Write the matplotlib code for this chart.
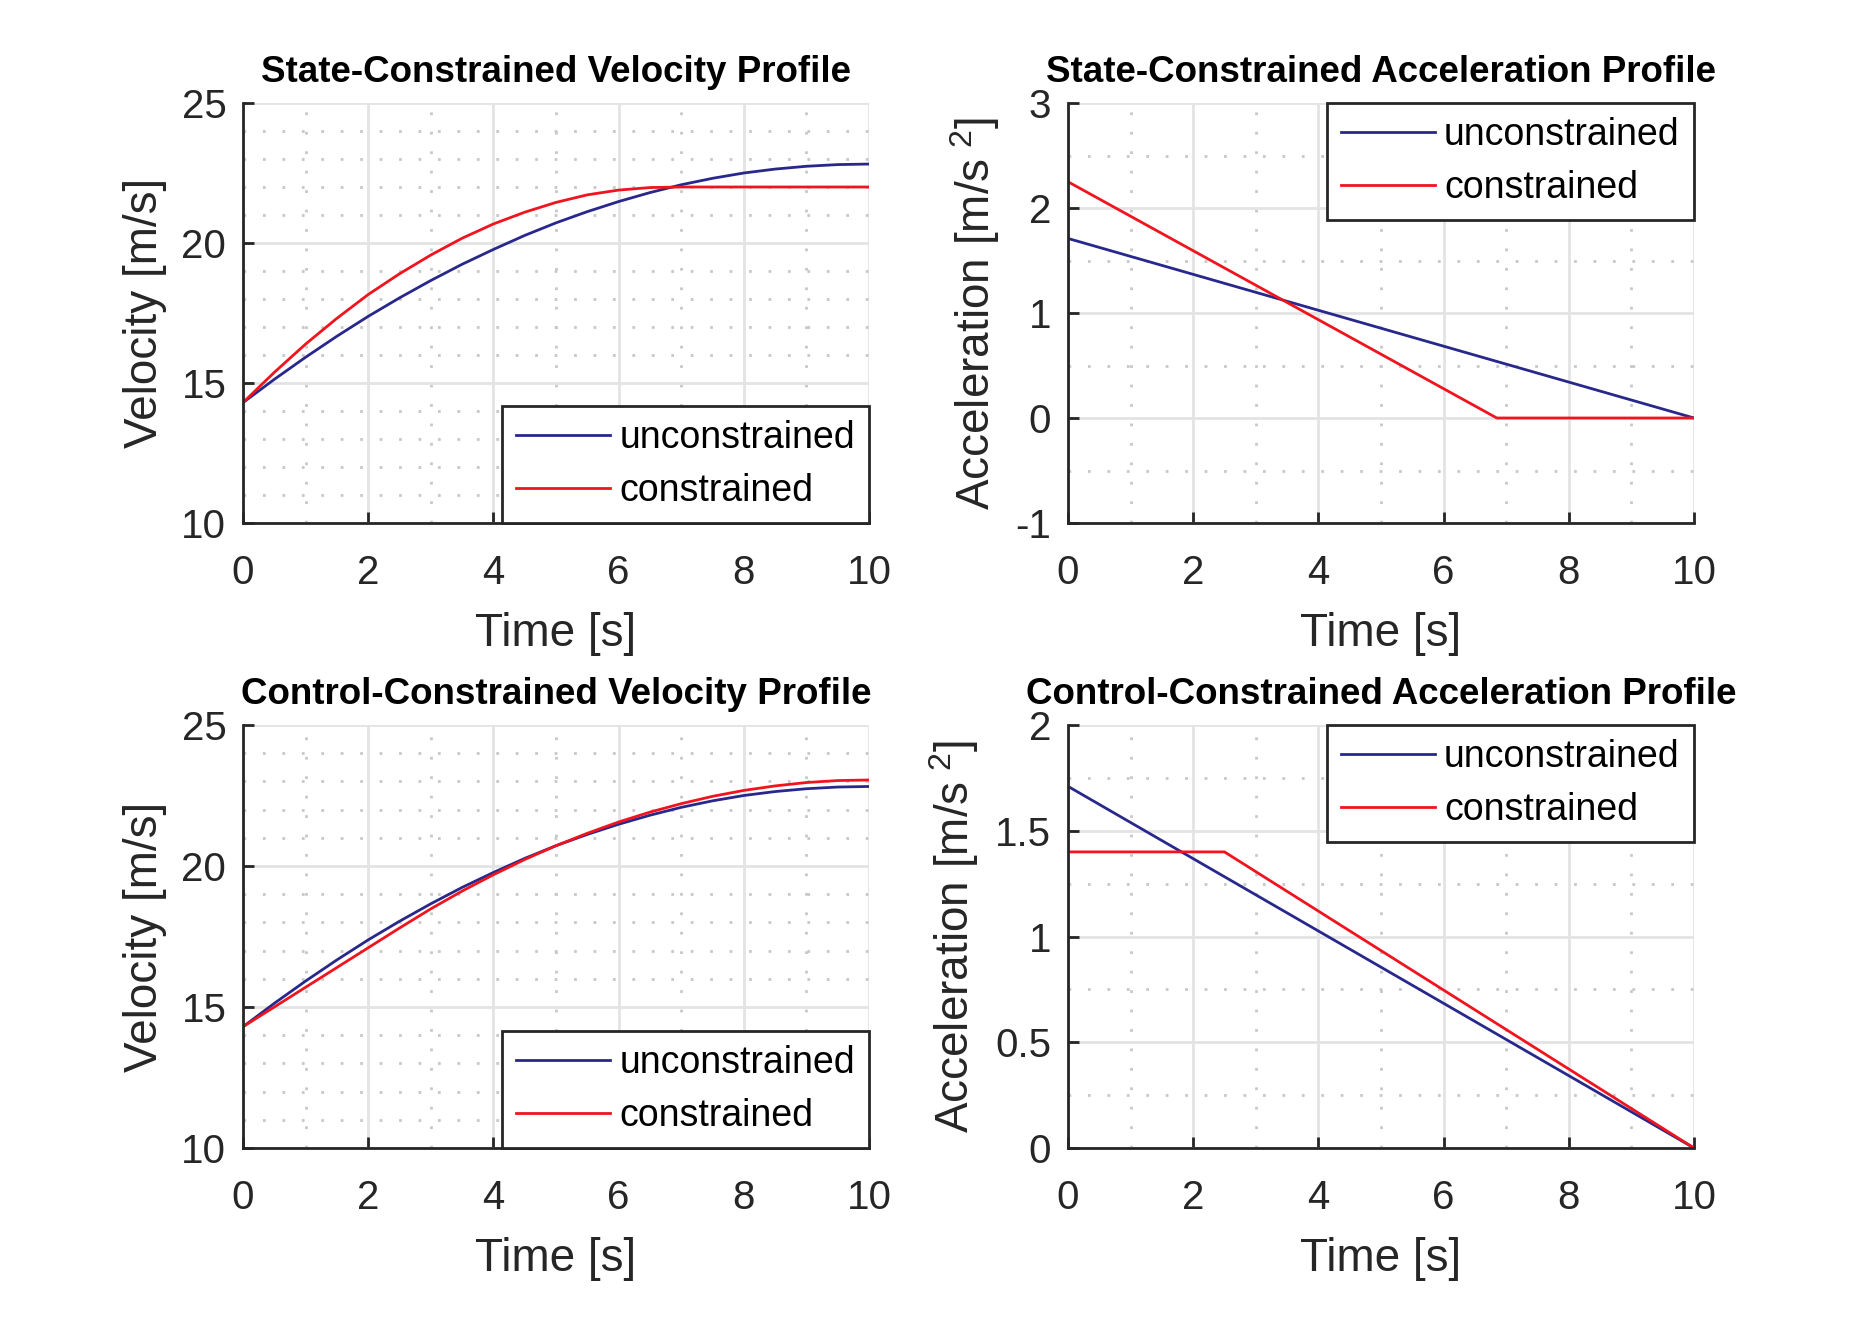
import matplotlib
matplotlib.use('Agg')
import matplotlib.pyplot as plt
from matplotlib.ticker import MultipleLocator, FuncFormatter

# time samples (every 0.5 s)
t = [0.0, 0.5, 1.0, 1.5, 2.0, 2.5, 3.0, 3.5, 4.0, 4.5, 5.0,
     5.5, 6.0, 6.5, 7.0, 7.5, 8.0, 8.5, 9.0, 9.5, 10.0]

v_unc = [14.30, 15.13, 15.92, 16.67, 17.38, 18.04, 18.66, 19.24, 19.77, 20.27, 20.72,
         21.12, 21.48, 21.80, 22.08, 22.31, 22.50, 22.64, 22.74, 22.80, 22.82]
v_state = [14.30, 15.38, 16.39, 17.31, 18.16, 18.90, 19.57, 20.17, 20.68, 21.10, 21.45,
           21.72, 21.89, 21.98, 22.00, 22.00, 22.00, 22.00, 22.00, 22.00, 22.00]
v_ctrl = [14.30, 15.00, 15.70, 16.40, 17.10, 17.80, 18.48, 19.11, 19.69, 20.23, 20.72,
          21.16, 21.56, 21.91, 22.21, 22.47, 22.68, 22.84, 22.96, 23.03, 23.05]

# acceleration break points
t_acc_unc = [0.0, 10.0]
a_unc = [1.71, 0.0]
t_acc_state = [0.0, 6.85, 10.0]
a_state = [2.25, 0.0, 0.0]
t_acc_ctrl = [0.0, 2.5, 10.0]
a_ctrl = [1.40, 1.40, 0.0]

labels = ['unconstrained', 'constrained']
titles = ['State-Constrained Velocity Profile', 'State-Constrained Acceleration Profile',
          'Control-Constrained Velocity Profile', 'Control-Constrained Acceleration Profile']

BLUE = '#28288C'
RED = '#F0141E'
AXC = '#262626'

plt.rcParams['font.family'] = ['Liberation Sans', 'DejaVu Sans']
plt.rcParams['mathtext.default'] = 'regular'
plt.rcParams['axes.unicode_minus'] = False

fig = plt.figure(figsize=(18.71, 13.17), dpi=100)

def style_axes(ax, ylim, ymaj, ymin, ylabel, title):
    ax.set_xlim(0, 10)
    ax.set_ylim(*ylim)
    ax.xaxis.set_major_locator(MultipleLocator(2))
    ax.xaxis.set_minor_locator(MultipleLocator(1))
    ax.yaxis.set_major_locator(MultipleLocator(ymaj))
    ax.yaxis.set_minor_locator(MultipleLocator(ymin))
    ax.yaxis.set_major_formatter(FuncFormatter(lambda v, p: '%g' % v))
    ax.grid(True, which='major', color='#E3E3E3', linewidth=2, linestyle='-')
    ax.grid(True, which='minor', color='#C8C8C8', linewidth=2, linestyle=(0, (1, 6)))
    ax.set_axisbelow(True)
    for s in ['top', 'right']:
        ax.spines[s].set_visible(False)
    for s in ['left', 'bottom']:
        ax.spines[s].set_color(AXC)
        ax.spines[s].set_linewidth(2)
    ax.tick_params(which='major', direction='in', length=8, width=2, color=AXC,
                   labelsize=29, labelcolor=AXC)
    ax.tick_params(axis='x', which='major', pad=22)
    ax.tick_params(axis='y', which='major', pad=12)
    ax.tick_params(which='minor', length=0)
    ax.set_xlabel('Time [s]', fontsize=33, color=AXC, labelpad=15)
    ax.set_ylabel(ylabel, fontsize=33, color=AXC, labelpad=10)
    ax.set_title(title, fontsize=26.5, fontweight='bold', color='black', pad=15)

def add_legend(ax, loc):
    leg = ax.legend(loc=loc, borderaxespad=0, fancybox=False, framealpha=1,
                    edgecolor=AXC, prop={'size': 27},
                    handlelength=2.5, handletextpad=0.25, labelspacing=0.45,
                    borderpad=0.38)
    leg.get_frame().set_linewidth(2)

ax_w = 626 / 1871
top_b = 1 - 523 / 1317
top_h = 420 / 1317
bot_b = 1 - 1148 / 1317
bot_h = 423 / 1317

ax1 = fig.add_axes([243 / 1871, top_b, ax_w, top_h])
ax1.plot(t, v_unc, color=BLUE, lw=2, label=labels[0])
ax1.plot(t, v_state, color=RED, lw=2, label=labels[1])
style_axes(ax1, (10, 25), 5, 1, 'Velocity [m/s]', titles[0])
add_legend(ax1, 'lower right')

ax2 = fig.add_axes([1068 / 1871, top_b, ax_w, top_h])
ax2.plot(t_acc_unc, a_unc, color=BLUE, lw=2, label=labels[0])
ax2.plot(t_acc_state, a_state, color=RED, lw=2, label=labels[1])
style_axes(ax2, (-1, 3), 1, 0.5, 'Acceleration [m/s$^{\\ 2}$]', titles[1])
add_legend(ax2, 'upper right')

ax3 = fig.add_axes([243 / 1871, bot_b, ax_w, bot_h])
ax3.plot(t, v_unc, color=BLUE, lw=2, label=labels[0])
ax3.plot(t, v_ctrl, color=RED, lw=2, label=labels[1])
style_axes(ax3, (10, 25), 5, 1, 'Velocity [m/s]', titles[2])
add_legend(ax3, 'lower right')

ax4 = fig.add_axes([1068 / 1871, bot_b, ax_w, bot_h])
ax4.plot(t_acc_unc, a_unc, color=BLUE, lw=2, label=labels[0])
ax4.plot(t_acc_ctrl, a_ctrl, color=RED, lw=2, label=labels[1])
style_axes(ax4, (0, 2), 0.5, 0.25, 'Acceleration [m/s$^{\\ 2}$]', titles[3])
add_legend(ax4, 'upper right')

fig.savefig('out.png', dpi=100, facecolor='white')
